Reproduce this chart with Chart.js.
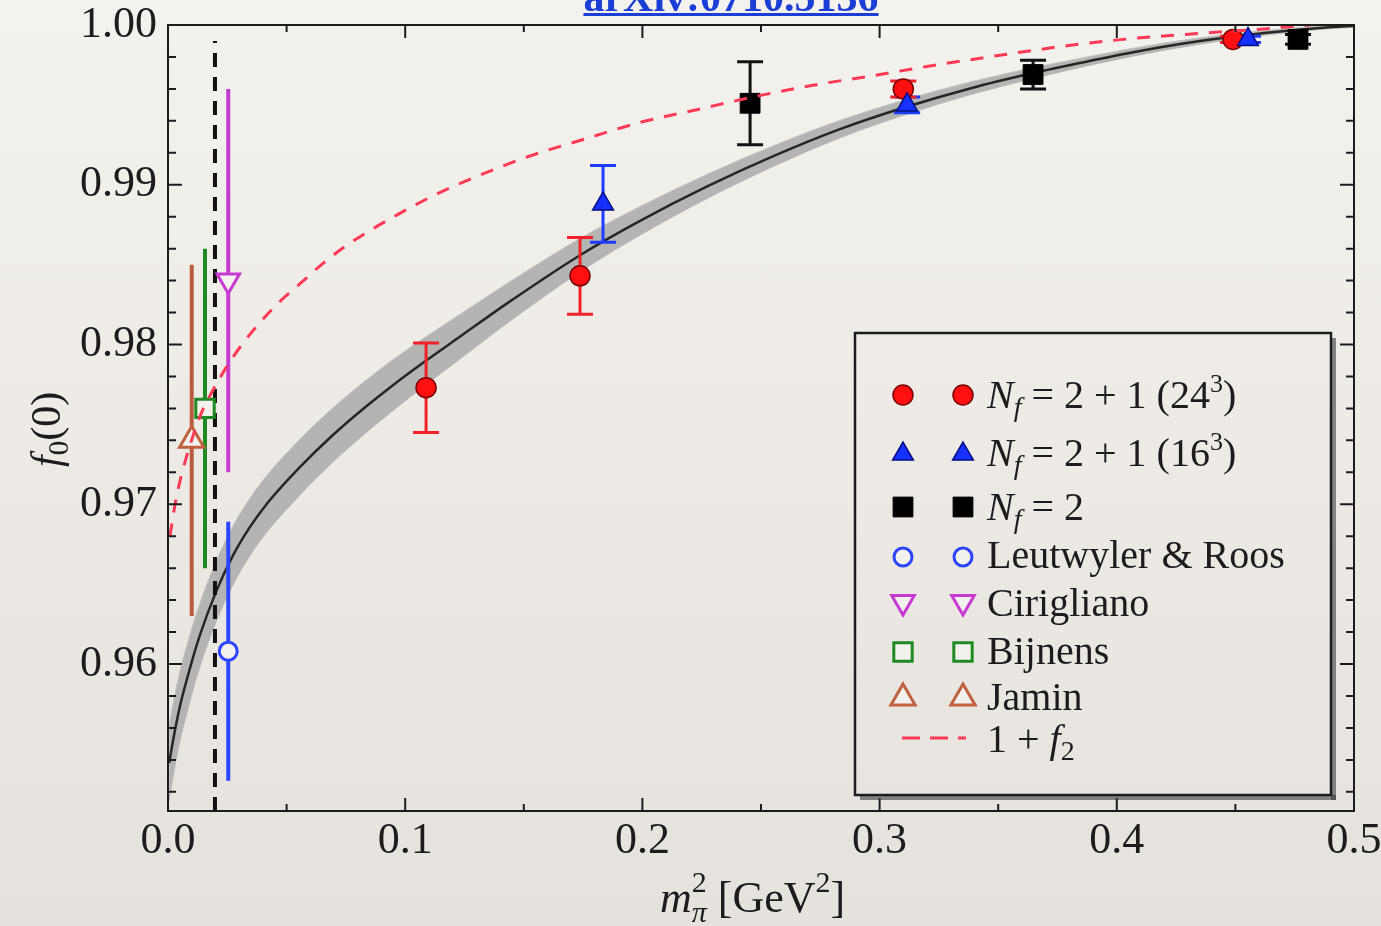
<!DOCTYPE html>
<html>
<head>
<meta charset="utf-8">
<script src="https://cdn.jsdelivr.net/npm/chart.js@4.4.1/dist/chart.umd.min.js"></script>
<style>
  html, body { margin: 0; padding: 0; width: 1381px; height: 926px; overflow: hidden; }
  body { background: linear-gradient(180deg, #f4f2ee 0%, #eeebe6 45%, #e5e2dd 100%); }
  canvas { display: block; }
</style>
</head>
<body>
<canvas id="chart" width="1381" height="926"></canvas>
<script>
// f_0(0) versus m_pi^2 [GeV^2]

// axis ticks
const xTicksMajor = [0.0, 0.1, 0.2, 0.3, 0.4, 0.5];
const xTicksMinor = [0.05, 0.15, 0.25, 0.35, 0.45];
const yTicksMajor = [0.96, 0.97, 0.98, 0.99, 1.00];
const yTicksMinor = [0.952, 0.954, 0.956, 0.958, 0.962, 0.964, 0.966, 0.968, 0.972, 0.974,
                     0.976, 0.978, 0.982, 0.984, 0.986, 0.988, 0.992, 0.994, 0.996, 0.998];
const xRange = [0.0, 0.5];
const yRange = [0.9508, 1.0];

// lattice: N_f = 2+1, 24^3
const nf21_24_x   = [0.1088, 0.1737, 0.3100, 0.4490];
const nf21_24_y   = [0.9773, 0.9843, 0.9960, 0.9991];
const nf21_24_err = [0.0028, 0.0024, 0.0005, 0.0002];

// lattice: N_f = 2+1, 16^3
const nf21_16_x   = [0.1834, 0.3116, 0.4553];
const nf21_16_y   = [0.9888, 0.9950, 0.9991];
const nf21_16_err = [0.0024, 0.0005, 0.0002];

// lattice: N_f = 2
const nf2_x   = [0.2454, 0.3647, 0.4764];
const nf2_y   = [0.9951, 0.9969, 0.9991];
const nf2_err = [0.0026, 0.0009, 0.0003];

// model / ChPT estimates at the physical point
const lr_x  = [0.0254]; const lr_y  = [0.9608]; const lr_err  = [0.0081];
const cir_x = [0.0254]; const cir_y = [0.984];  const cir_err = [0.012];
const bij_x = [0.0156]; const bij_y = [0.976];  const bij_err = [0.010];
const jam_x = [0.0100]; const jam_y = [0.974];  const jam_err = [0.011];

// physical pion mass
const physX = [0.0198, 0.0198];
const physY = [0.9508, 0.9990];

// chiral fit with its error band
const fitX   = [0.0005, 0.002, 0.0048, 0.009, 0.0132, 0.0202, 0.0273, 0.0343, 0.0413, 0.0554,
                0.0694, 0.0835, 0.0947, 0.109, 0.123, 0.1428, 0.1737, 0.199, 0.2271, 0.2552,
                0.2833, 0.3114, 0.3389, 0.3647, 0.3789, 0.4069, 0.4351, 0.4632, 0.491, 0.5];
const fitY   = [0.9538, 0.9551, 0.9572, 0.9596, 0.9617, 0.9645, 0.96677, 0.96852, 0.96996, 0.97229,
                0.97432, 0.97612, 0.97744, 0.97901, 0.98048, 0.98256, 0.98559, 0.98774, 0.98988, 0.99179,
                0.99348, 0.99488, 0.99606, 0.99699, 0.99745, 0.9983, 0.9990, 0.99952, 0.99988, 0.99995];
const bandLo = [0.9514, 0.9528, 0.9550, 0.9575, 0.9597, 0.9626, 0.96492, 0.96672, 0.96818, 0.97054,
                0.97262, 0.97447, 0.97584, 0.97751, 0.97908, 0.98131, 0.98454, 0.98684, 0.98912, 0.99114,
                0.99293, 0.99441, 0.99566, 0.99665, 0.99715, 0.99805, 0.9988, 0.99937, 0.99978, 0.99985];
const bandHi = [0.9562, 0.9574, 0.9594, 0.9617, 0.9637, 0.9664, 0.96862, 0.97032, 0.97174, 0.97404,
                0.97602, 0.97777, 0.97904, 0.98051, 0.98188, 0.98381, 0.98664, 0.98864, 0.99064, 0.99244,
                0.99403, 0.99535, 0.99646, 0.99733, 0.99775, 0.99855, 0.9992, 0.99967, 0.99998, 1.00005];

// 1 + f_2
const f2X = [0.0008, 0.003, 0.0058, 0.0135, 0.0177, 0.0247, 0.0317, 0.0395, 0.0472, 0.0564,
             0.0655, 0.0753, 0.0859, 0.0964, 0.1076, 0.1189, 0.1315, 0.1526, 0.1765, 0.199,
             0.2229, 0.2468, 0.2707, 0.296, 0.3199, 0.355, 0.3789, 0.4027, 0.428, 0.466, 0.4815];
const f2Y = [0.9680, 0.9700, 0.9719, 0.9755, 0.9768, 0.9786, 0.9801, 0.9815, 0.9827, 0.9839,
             0.9851, 0.9862, 0.9872, 0.9881, 0.9890, 0.9898, 0.9906, 0.9918, 0.9929, 0.9939,
             0.9947, 0.9955, 0.9962, 0.9968, 0.9974, 0.9982, 0.9987, 0.9991, 0.9994, 0.9998, 1.0000];

const SERIF = "'Liberation Serif', 'DejaVu Serif', serif";
const INK = '#1c1c1c';
const pts = (xs, ys) => xs.map((x, i) => ({ x, y: ys[i] }));

// rich text: parts {t, it, sz, dy, stay}
function drawRich(ctx, parts, x, y) {
  let cx = x;
  for (const p of parts) {
    ctx.font = (p.it ? 'italic ' : '') + (p.sz || 40) + 'px ' + SERIF;
    ctx.fillText(p.t, cx, y + (p.dy || 0));
    if (!p.stay) cx += ctx.measureText(p.t).width;
  }
  return cx;
}

const datasets = [
  { label: '1 + f2', data: pts(f2X, f2Y), showLine: true, fill: false,
    borderColor: '#ff3a55', borderWidth: 3, borderDash: [13, 11], pointRadius: 0,
    cubicInterpolationMode: 'monotone', legendRow: 7,
    legendParts: [{ t: '1 + ' }, { t: 'f', it: 1 }, { t: '2', sz: 28, dy: 8 }] },
  { label: 'Nf=2+1 (16^3)', data: pts(nf21_16_x, nf21_16_y), showLine: false,
    pointStyle: 'triangle', pointRadius: 12, pointBackgroundColor: '#1530ff',
    pointBorderColor: '#000c80', pointBorderWidth: 1.5,
    errors: nf21_16_err, errColor: '#1e3cff', errWidth: 3, cap: 13, legendRow: 1,
    legendParts: [{ t: 'N', it: 1 }, { t: 'f', it: 1, sz: 28, dy: 8 }, { t: ' = 2 + 1 (16' },
                  { t: '3', sz: 26, dy: -16 }, { t: ')' }] },
  { label: 'Nf=2+1 (24^3)', data: pts(nf21_24_x, nf21_24_y), showLine: false,
    pointStyle: 'circle', pointRadius: 10, pointBackgroundColor: '#ff1010',
    pointBorderColor: '#7a0000', pointBorderWidth: 1.5,
    errors: nf21_24_err, errColor: '#f02228', errWidth: 3, cap: 13, legendRow: 0,
    legendParts: [{ t: 'N', it: 1 }, { t: 'f', it: 1, sz: 28, dy: 8 }, { t: ' = 2 + 1 (24' },
                  { t: '3', sz: 26, dy: -16 }, { t: ')' }] },
  { label: 'Nf=2', data: pts(nf2_x, nf2_y), showLine: false,
    pointStyle: 'rect', pointRadius: 14, pointBackgroundColor: '#000000',
    pointBorderColor: '#000000', pointBorderWidth: 1,
    errors: nf2_err, errColor: '#111111', errWidth: 3, cap: 13, legendRow: 2,
    legendParts: [{ t: 'N', it: 1 }, { t: 'f', it: 1, sz: 28, dy: 8 }, { t: ' = 2' }] },
  { label: 'Leutwyler & Roos', data: pts(lr_x, lr_y), showLine: false,
    pointStyle: 'circle', pointRadius: 9, pointBackgroundColor: '#f3f1ed',
    pointBorderColor: '#2a46ff', pointBorderWidth: 3,
    errors: lr_err, errColor: '#2a46ff', errWidth: 4, cap: 0, legendRow: 3,
    legendParts: [{ t: 'Leutwyler & Roos' }] },
  { label: 'Cirigliano', data: pts(cir_x, cir_y), showLine: false,
    pointStyle: 'triangle', pointRotation: 180, pointRadius: 13, pointBackgroundColor: '#f3f1ed',
    pointBorderColor: '#c63ad2', pointBorderWidth: 3,
    errors: cir_err, errColor: '#c63ad2', errWidth: 4, cap: 0, legendRow: 4,
    legendParts: [{ t: 'Cirigliano' }] },
  { label: 'Bijnens', data: pts(bij_x, bij_y), showLine: false,
    pointStyle: 'rect', pointRadius: 13, pointBackgroundColor: '#f3f1ed',
    pointBorderColor: '#1f8a22', pointBorderWidth: 3,
    errors: bij_err, errColor: '#1f8a22', errWidth: 4, cap: 0, legendRow: 5,
    legendParts: [{ t: 'Bijnens' }] },
  { label: 'Jamin', data: pts(jam_x, jam_y), showLine: false,
    pointStyle: 'triangle', pointRadius: 14, pointBackgroundColor: '#f3f1ed',
    pointBorderColor: '#c0613f', pointBorderWidth: 3,
    errors: jam_err, errColor: '#b85c40', errWidth: 4, cap: 0, legendRow: 6,
    legendParts: [{ t: 'Jamin' }] },
  { label: 'physical point', data: pts(physX, physY), showLine: true, fill: false,
    borderColor: '#111111', borderWidth: 4, borderDash: [14, 10], pointRadius: 0 },
  { label: 'fit', data: pts(fitX, fitY), showLine: true, fill: false,
    borderColor: '#262626', borderWidth: 2.5, pointRadius: 0, cubicInterpolationMode: 'monotone' },
  { label: 'band upper', data: pts(fitX, bandHi), showLine: true, fill: '+1',
    backgroundColor: '#b4b4b2', borderColor: '#c4c4c2', borderWidth: 1, pointRadius: 0,
    cubicInterpolationMode: 'monotone' },
  { label: 'band lower', data: pts(fitX, bandLo), showLine: true, fill: false,
    borderColor: '#c4c4c2', borderWidth: 1, pointRadius: 0, cubicInterpolationMode: 'monotone' }
];
const PHYS_INDEX = 8;

function drawErrorBars(chart) {
  const { ctx, chartArea: a, scales: { x, y } } = chart;
  ctx.save();
  ctx.beginPath();
  ctx.rect(a.left, a.top, a.right - a.left, a.bottom - a.top);
  ctx.clip();
  chart.data.datasets.forEach(ds => {
    if (!ds.errors) return;
    ctx.strokeStyle = ds.errColor;
    ctx.lineWidth = ds.errWidth;
    ds.data.forEach((p, i) => {
      const e = ds.errors[i];
      const px = x.getPixelForValue(p.x);
      const y1 = y.getPixelForValue(p.y - e);
      const y2 = y.getPixelForValue(p.y + e);
      ctx.beginPath();
      ctx.moveTo(px, y1); ctx.lineTo(px, y2);
      if (ds.cap) {
        ctx.moveTo(px - ds.cap, y1); ctx.lineTo(px + ds.cap, y1);
        ctx.moveTo(px - ds.cap, y2); ctx.lineTo(px + ds.cap, y2);
      }
      ctx.stroke();
    });
  });
  ctx.restore();
}

const errorBarPlugin = {
  id: 'errorBars',
  afterDatasetDraw(chart, args) {
    if (args.index === PHYS_INDEX) drawErrorBars(chart);
  }
};

// full frame with inward ticks on all four sides
const framePlugin = {
  id: 'frame',
  afterDatasetsDraw(chart) {
    const { ctx, chartArea: a, scales: { x, y } } = chart;
    ctx.save();
    ctx.strokeStyle = INK;
    ctx.lineWidth = 2;
    ctx.strokeRect(a.left, a.top, a.right - a.left, a.bottom - a.top);
    ctx.beginPath();
    const xt = (vals, len) => vals.forEach(v => {
      const p = x.getPixelForValue(v);
      ctx.moveTo(p, a.bottom); ctx.lineTo(p, a.bottom - len);
      ctx.moveTo(p, a.top); ctx.lineTo(p, a.top + len);
    });
    const yt = (vals, len) => vals.forEach(v => {
      const p = y.getPixelForValue(v);
      ctx.moveTo(a.left, p); ctx.lineTo(a.left + len, p);
      ctx.moveTo(a.right, p); ctx.lineTo(a.right - len, p);
    });
    xt(xTicksMajor, 13); xt(xTicksMinor, 7);
    yt(yTicksMajor, 14); yt(yTicksMinor, 8);
    ctx.stroke();
    ctx.restore();
  }
};

// boxed legend with two sample markers per entry
const legendPlugin = {
  id: 'boxLegend',
  afterDraw(chart) {
    const ctx = chart.ctx;
    const L = 855, T = 333, R = 1331, B = 795;
    const markY = [395, 454, 507, 557, 602, 652, 698, 738];
    const textY = [408, 466, 520, 568, 616, 664, 710, 752];
    ctx.save();
    ctx.fillStyle = 'rgba(45,45,45,0.55)';
    ctx.fillRect(L + 5, B, R - L, 5);
    ctx.fillRect(R, T + 5, 5, B - T);
    ctx.strokeStyle = INK;
    ctx.lineWidth = 2.5;
    ctx.strokeRect(L, T, R - L, B - T);
    chart.data.datasets.forEach(ds => {
      if (ds.legendRow === undefined) return;
      const my = markY[ds.legendRow];
      if (ds.showLine) {
        ctx.strokeStyle = ds.borderColor;
        ctx.lineWidth = ds.borderWidth;
        ctx.setLineDash([18, 10]);
        ctx.beginPath(); ctx.moveTo(902, my); ctx.lineTo(966, my); ctx.stroke();
        ctx.setLineDash([]);
      } else {
        [903, 963].forEach(mx => {
          ctx.fillStyle = ds.pointBackgroundColor;
          ctx.strokeStyle = ds.pointBorderColor;
          ctx.lineWidth = ds.pointBorderWidth;
          Chart.helpers.drawPoint(ctx, {
            pointStyle: ds.pointStyle, radius: ds.pointRadius,
            rotation: ds.pointRotation || 0, borderWidth: ds.pointBorderWidth
          }, mx, my);
        });
      }
      ctx.fillStyle = INK;
      ctx.textAlign = 'left';
      ctx.textBaseline = 'alphabetic';
      drawRich(ctx, ds.legendParts, 987, textY[ds.legendRow]);
    });
    ctx.restore();
  }
};

// axis titles and the reference link above the frame
const titlePlugin = {
  id: 'titles',
  afterDraw(chart) {
    const ctx = chart.ctx;
    ctx.save();
    ctx.fillStyle = INK;
    ctx.textAlign = 'left';
    ctx.textBaseline = 'alphabetic';
    // x title: m_pi^2 [GeV^2]
    drawRich(ctx, [
      { t: 'm', it: 1, sz: 44 },
      { t: '2', sz: 30, dy: -20, stay: 1 },
      { t: 'π', it: 1, sz: 30, dy: 10 },
      { t: ' [GeV', sz: 44 },
      { t: '2', sz: 30, dy: -20 },
      { t: ']', sz: 44 }
    ], 660, 912);
    // y title: f_0(0)
    ctx.translate(60, 467);
    ctx.rotate(-Math.PI / 2);
    drawRich(ctx, [
      { t: 'f', it: 1, sz: 42 },
      { t: '0', sz: 29, dy: 8 },
      { t: '(0)', sz: 42 }
    ], 0, 0);
    ctx.setTransform(1, 0, 0, 1, 0, 0);
    // link text
    const link = 'arXiv:0710.5136';
    ctx.font = 'bold 42px ' + SERIF;
    ctx.fillStyle = '#1b3fd6';
    const w = ctx.measureText(link).width;
    const cx = 731;
    ctx.fillText(link, cx - w / 2, 11);
    ctx.fillRect(cx - w / 2, 13, w, 3);
    ctx.restore();
  }
};

new Chart(document.getElementById('chart'), {
  type: 'scatter',
  data: { datasets },
  options: {
    responsive: false,
    devicePixelRatio: 1,
    animation: false,
    events: [],
    layout: { padding: { left: 0, top: 25, right: 27, bottom: 0 } },
    plugins: { legend: { display: false }, tooltip: { enabled: false } },
    scales: {
      x: {
        type: 'linear', min: xRange[0], max: xRange[1],
        grid: { display: false, drawTicks: false },
        border: { display: false },
        ticks: {
          stepSize: 0.1, autoSkip: false, maxRotation: 0, padding: 8,
          color: INK, font: { family: SERIF, size: 44, lineHeight: 1 },
          callback: v => Number(v).toFixed(1)
        },
        afterFit: s => { s.height = 115; s.paddingLeft = 0; s.paddingRight = 0; }
      },
      y: {
        type: 'linear', min: yRange[0], max: yRange[1],
        grid: { display: false, drawTicks: false },
        border: { display: false },
        ticks: {
          stepSize: 0.01, includeBounds: false, autoSkip: false, padding: 11,
          color: INK, font: { family: SERIF, size: 44, lineHeight: 1 },
          callback: v => Number(v).toFixed(2)
        },
        afterFit: s => { s.width = 168; s.paddingTop = 0; s.paddingBottom = 0; }
      }
    }
  },
  plugins: [errorBarPlugin, framePlugin, legendPlugin, titlePlugin]
});
</script>
</body>
</html>
